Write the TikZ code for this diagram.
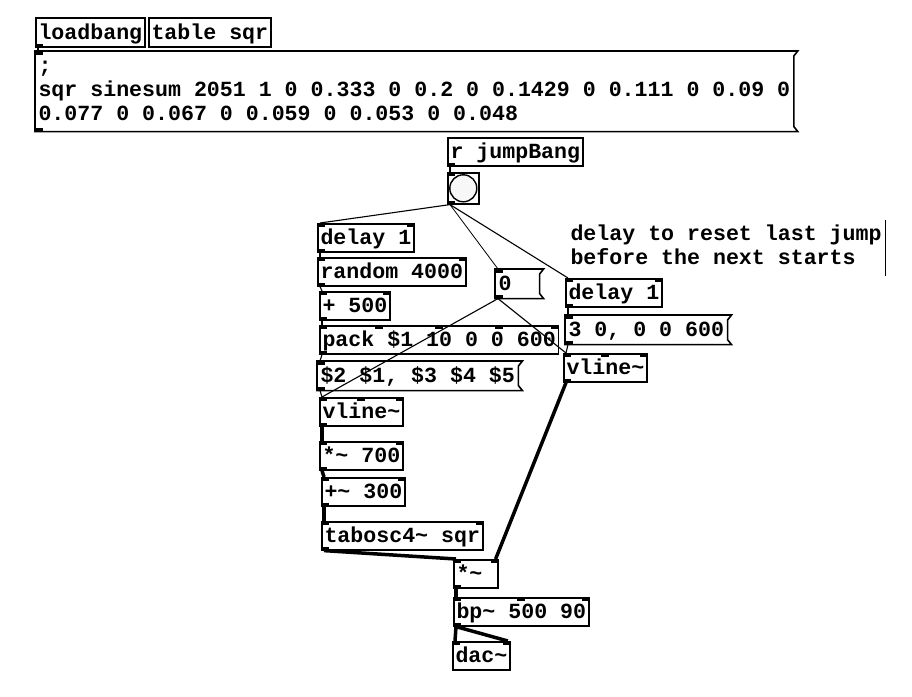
\documentclass[tikz,border=0pt]{standalone}
\usepackage{fontspec}
\setmonofont{Liberation Mono}
\usetikzlibrary{positioning, calc}
\newcommand\pdfont{\fontsize{21.6}{24}\selectfont\ttfamily\bfseries}
\tikzset{
  pdbase/.style={font=\pdfont, anchor=north west, inner xsep=2.7pt, inner ysep=2pt, line width=1.6pt},
  pd/.style={pdbase, text height=19pt, text depth=5pt},
  obj/.style={pd, draw},
  msg/.style={pd},
  ctl/.style={line width=1.1pt},
  sig/.style={line width=3.5pt}}
% message / atom outline with the flag on the right
\newcommand\msgframe[2]{\draw[line width=1.6pt] (#1.north west) -- ([xshift=#2]#1.north east) -- ([yshift=-5pt]#1.north east) -- ([yshift=5pt]#1.south east) -- ([xshift=#2]#1.south east) -- (#1.south west) -- cycle;}

\begin{document}
\begin{tikzpicture}[x=1pt, y=-1pt]
	\fill[white] (0,0) rectangle (912,696);
	\useasboundingbox (0,0) rectangle (912,696);
	% top row
	\node[obj, minimum height=29pt] (ld) at (35,17) {loadbang};
	\node[obj, minimum height=29pt] (tbl) at (148,17) {table sqr};
	\node[pdbase, inner ysep=3.5pt, align=left] (sine) at (35,51) {\strut;\\\strut sqr sinesum 2051 1 0 0.333 0 0.2 0 0.1429 0 0.111 0 0.09 0\\\strut 0.077 0 0.067 0 0.059 0 0.053 0 0.048};
	\msgframe{sine}{4pt}
	% receive and bang
	\node[obj] (rjb) at (447,137) {r jumpBang};
	\node[obj, minimum size=31pt, inner sep=0pt, text height=, text depth=] (bng) at (447,172) {};
	\draw[line width=1.4pt, fill=gray!6] (bng.center) circle (13.5);
	% left chain
	\node[obj] (del1) at (317,223) {delay 1};
	\node[obj] (rnd) at (317,257) {random 4000};
	\node[obj] (add) at (319,291) {+ 500};
	\node[obj] (pack) at (319,325) {pack \$1 10 0 0 600};
	\node[msg] (swap) at (317,361) {\$2 \$1, \$3 \$4 \$5};
	\msgframe{swap}{4pt}
	\node[obj] (vl1) at (319,397) {vline\string~};
	\node[obj] (mul) at (319,441) {*\string~ 700};
	\node[obj] (addsig) at (321,477) {+\string~ 300};
	\node[obj] (tab) at (321,521) {tabosc4\string~ sqr};
	\node[obj, text width=38.6pt, align=left] (mulsig) at (453,559) {*\string~};
	\node[obj] (bp) at (453,597) {bp\string~ 500 90};
	\node[obj] (dac) at (452,641) {dac\string~};
	% reset chain
	\node[msg, text width=37.6pt, align=left] (num) at (495,269) {0};
	\msgframe{num}{4pt}
	\node[obj] (del2) at (565,278) {delay 1};
	\node[msg] (msg3) at (565,315) {3 0, 0 0 600};
	\msgframe{msg3}{4pt}
	\node[obj] (vl2) at (563,353) {vline\string~};
	\node[pdbase, inner ysep=3pt, align=left] (cmt) at (567,220) {\strut delay to reset last jump\\\strut before the next starts};
	\draw[line width=1.2pt] (cmt.north east) -- (cmt.south east);
	% inlets and outlets
	\foreach \n in {sine,bng,del1,rnd,add,pack,swap,vl1,mul,addsig,tab,mulsig,bp,dac,num,del2,msg3,vl2}
		\fill (\n.north west) rectangle ++(8,3.5);
	\foreach \n in {ld,sine,rjb,bng,del1,rnd,add,pack,swap,vl1,mul,addsig,tab,mulsig,bp,num,del2,msg3,vl2}
		\fill (\n.south west) rectangle ++(8,-3.5);
	\foreach \n in {del1,rnd,add,pack,vl1,mul,addsig,tab,mulsig,bp,dac,del2,vl2}
		\fill (\n.north east) rectangle ++(-8,3.5);
	\foreach \f in {0.25,0.5,0.75}
		\fill ($(pack.north west)!\f!(pack.north east)+(-4,0)$) rectangle ++(8,3.5);
	\foreach \n in {vl1,vl2,bp}
		\fill ($(\n.north west)!0.5!(\n.north east)+(-4,0)$) rectangle ++(8,3.5);
	% control connections
	\draw[ctl] ([xshift=3pt]ld.south west) -- ([xshift=3pt]sine.north west);
	\draw[ctl] ([xshift=3pt]rjb.south west) -- ([xshift=3pt]bng.north west);
	\draw[ctl] ([xshift=3pt]bng.south west) -- ([xshift=3pt]del1.north west);
	\draw[line width=0.8pt] ([xshift=3pt]bng.south west) -- ([xshift=3pt]num.north west);
	\draw[ctl] ([xshift=3pt]bng.south west) -- ([xshift=3pt]del2.north west);
	\draw[ctl] ([xshift=3pt]del1.south west) -- ([xshift=3pt]rnd.north west);
	\draw[ctl] ([xshift=3pt]rnd.south west) -- ([xshift=3pt]add.north west);
	\draw[ctl] ([xshift=3pt]add.south west) -- ([xshift=3pt]pack.north west);
	\draw[ctl] ([xshift=3pt]pack.south west) -- ([xshift=3pt]swap.north west);
	\draw[ctl] ([xshift=3pt]swap.south west) -- ([xshift=3pt]vl1.north west);
	\draw[ctl] ([xshift=3pt]num.south west) -- ([xshift=3pt]vl1.north west);
	\draw[ctl] ([xshift=3pt]num.south west) -- ([xshift=3pt]vl2.north west);
	\draw[ctl] ([xshift=3pt]del2.south west) -- ([xshift=3pt]msg3.north west);
	\draw[ctl] ([xshift=3pt]msg3.south west) -- ([xshift=3pt]vl2.north west);
	% signal connections
	\draw[sig] ([xshift=3pt]vl1.south west) -- ([xshift=3pt]mul.north west);
	\draw[sig] ([xshift=3pt]mul.south west) -- ([xshift=3pt]addsig.north west);
	\draw[sig] ([xshift=3pt]addsig.south west) -- ([xshift=3pt]tab.north west);
	\draw[sig] ([xshift=3pt]tab.south west) -- ([xshift=3pt]mulsig.north west);
	\draw[sig] ([xshift=3pt]vl2.south west) -- ([xshift=-3pt]mulsig.north east);
	\draw[sig] ([xshift=3pt]mulsig.south west) -- ([xshift=3pt]bp.north west);
	\draw[sig] ([xshift=3pt]bp.south west) -- ([xshift=3pt]dac.north west);
	\draw[sig] ([xshift=3pt]bp.south west) -- ([xshift=-3pt]dac.north east);
\end{tikzpicture}
\end{document}
